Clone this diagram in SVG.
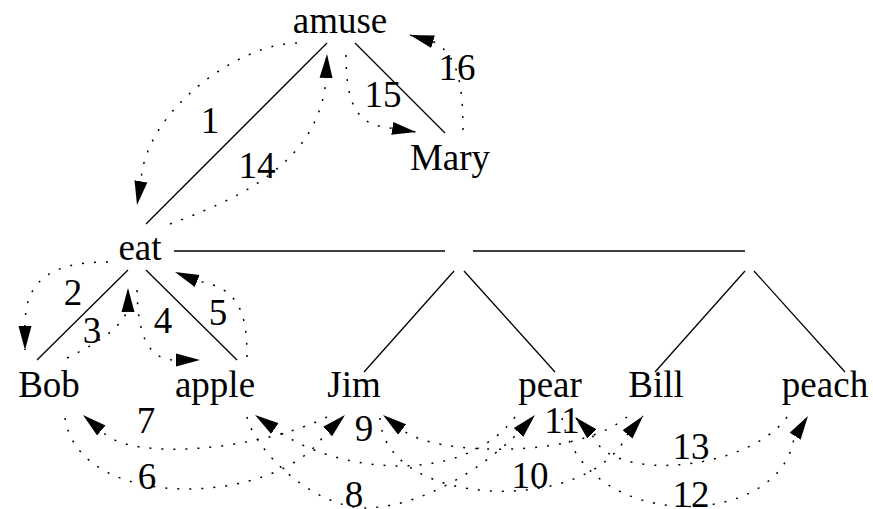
<svg xmlns="http://www.w3.org/2000/svg" width="873" height="509" viewBox="0 0 873 509">
<style>
text{font-family:'Liberation Serif','DejaVu Serif','Noto Serif',serif;font-size:37px;fill:#000;text-anchor:middle}
.tree{stroke:#000;stroke-width:1.3;fill:none}
.arc{stroke:#000;stroke-width:1.5;fill:none;stroke-dasharray:2 10;marker-end:url(#ah)}
</style>
<defs>
<marker id="ah" markerUnits="userSpaceOnUse" viewBox="0 0 25 14" markerWidth="25" markerHeight="14" refX="24" refY="7" orient="auto">
<path d="M0,0.5 L24,7 L0,13.5 z" fill="#000"/>
</marker>
</defs>
<rect width="873" height="509" fill="#fff"/>
<g id="connectors">
<g id="tree-edges">
<line class="tree" x1="327" y1="43" x2="146" y2="224"/>
<line class="tree" x1="355" y1="43" x2="445" y2="133"/>
<line class="tree" x1="128" y1="270" x2="37" y2="360"/>
<line class="tree" x1="146" y1="270" x2="237" y2="360"/>
<line class="tree" x1="174" y1="251" x2="445" y2="251"/>
<line class="tree" x1="473" y1="251" x2="745" y2="251"/>
<line class="tree" x1="454" y1="271" x2="364" y2="372"/>
<line class="tree" x1="464" y1="271" x2="555" y2="372"/>
<line class="tree" x1="745" y1="271" x2="655" y2="372"/>
<line class="tree" x1="754" y1="271" x2="845" y2="372"/>
</g>
<g id="walk">
<path class="arc" d="M297,43 C240,43 145,110 141,181 L137,205"/>
<path class="arc" d="M108,262 C45,262 25,285 25,325 L25,350"/>
<path class="arc" d="M67,358 C100,342 125,325 128,307 L128,288"/>
<path class="arc" d="M137,290 C138,340 150,358 173,360 L200,360"/>
<path class="arc" d="M247,357 C247,310 238,288 197,281 L175,272"/>
<path class="arc" d="M65,418 C80,515 280,505 325,434 L345,415"/>
<path class="arc" d="M327,417 C260,450 130,462 103,432 L83,415"/>
<path class="arc" d="M247,417 C255,450 310,505 363,508 C420,508 480,470 516,435 L535,415"/>
<path class="arc" d="M515,417 C460,490 330,470 277,430 L255,415"/>
<path class="arc" d="M380,418 C385,510 590,515 627,435 L643,416"/>
<path class="arc" d="M627,417 C575,460 435,455 404,431 L383,415"/>
<path class="arc" d="M562,418 C585,535 780,530 794,438 L808,416"/>
<path class="arc" d="M787,417 C750,470 610,485 592,434 L575,417"/>
<path class="arc" d="M170,224 C235,200 318,165 326,80 L327,54"/>
<path class="arc" d="M346,55 C346,110 360,125 390,128 L416,132"/>
<path class="arc" d="M463,130 C463,85 458,55 434,42 L410,35"/>
</g>
<g id="walk-labels">
<text x="210" y="133">1</text>
<text x="73" y="305">2</text>
<text x="92" y="343">3</text>
<text x="163" y="333">4</text>
<text x="218" y="325">5</text>
<text x="147" y="489">6</text>
<text x="146" y="433">7</text>
<text x="354" y="507">8</text>
<text x="364" y="441">9</text>
<text x="530" y="488">10</text>
<text x="562" y="433">11</text>
<text x="691" y="507">12</text>
<text x="691" y="459">13</text>
<text x="257" y="178">14</text>
<text x="383" y="107">15</text>
<text x="457" y="80">16</text>
</g>
</g>
<g id="n-amuse"><text x="340" y="33">amuse</text></g>
<g id="n-Mary"><text x="450" y="170">Mary</text></g>
<g id="n-eat"><text x="140" y="260">eat</text></g>
<g id="n-Bob"><text x="49" y="397">Bob</text></g>
<g id="n-apple"><text x="215" y="397">apple</text></g>
<g id="n-Jim"><text x="354" y="397">Jim</text></g>
<g id="n-pear"><text x="550" y="397">pear</text></g>
<g id="n-Bill"><text x="656" y="397">Bill</text></g>
<g id="n-peach"><text x="825" y="397">peach</text></g>
</svg>
